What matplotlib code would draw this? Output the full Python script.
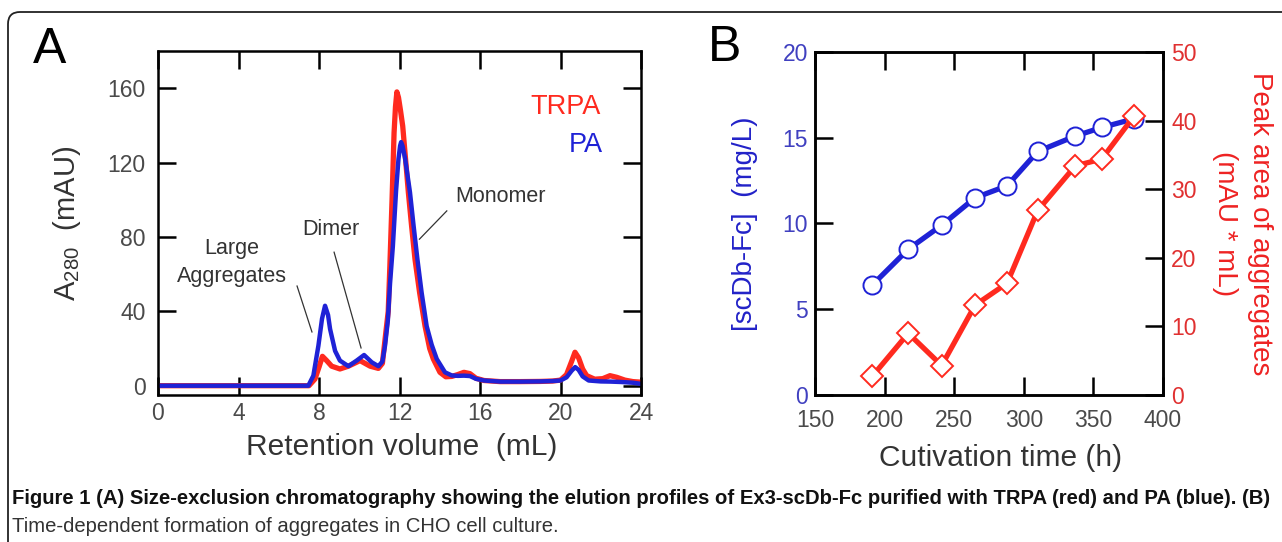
import matplotlib
matplotlib.use("Agg")
import matplotlib.pyplot as plt
from matplotlib.patches import FancyBboxPatch
from matplotlib.transforms import IdentityTransform

plt.rcParams['font.family'] = ['Liberation Sans', 'DejaVu Sans']
plt.rcParams['mathtext.fontset'] = 'custom'
plt.rcParams['mathtext.rm'] = 'Liberation Sans'
plt.rcParams['mathtext.default'] = 'regular'

# ---------------- Panel A data ----------------
trpa_vol = [0, 7.5, 7.8, 8.0, 8.17, 8.38, 8.63, 9.04, 9.46, 10.04, 10.54, 10.95, 11.15,
            11.32, 11.44, 11.52, 11.63, 11.73, 11.80, 11.87, 11.95, 12.05, 12.16, 12.3,
            12.44, 12.6, 12.77, 13.0, 13.27, 13.5, 13.68, 14.01, 14.3, 14.6, 14.9, 15.2,
            15.5, 15.8, 16.2, 17, 18, 19, 19.6, 20.0, 20.3, 20.55, 20.72, 20.9, 21.1, 21.3,
            21.7, 22.1, 22.46, 22.8, 23.2, 23.6, 24]
trpa_abs = [0, 0, 3.6, 10, 15.8, 13.5, 10.5, 9.0, 10.5, 13.5, 10.5, 9.3, 12,
            28.6, 40, 64, 100, 136, 150, 158, 155, 148, 139.6, 122,
            104, 86, 68, 50, 32, 20, 14.4, 7.2, 4.8, 5, 6, 7.2,
            6.5, 4, 2.8, 2.2, 2.2, 2.3, 2.5, 3, 6, 13, 18, 15, 9, 5.4,
            3.5, 3.8, 5.4, 4.5, 3, 2.2, 1.9]

pa_vol = [0, 7.47, 7.72, 7.97, 8.15, 8.30, 8.45, 8.55, 8.80, 9.04, 9.46, 9.87, 10.24,
          10.62, 10.95, 11.15, 11.28, 11.42, 11.53, 11.67, 11.83, 11.95, 12.03, 12.08,
          12.15, 12.28, 12.52, 12.7, 12.89, 13.1, 13.35, 13.6, 13.85, 14.26, 14.6, 14.9,
          15.2, 15.5, 15.8, 16.2, 17, 18, 19, 19.6, 20.0, 20.3, 20.55, 20.73, 20.9, 21.1,
          21.4, 22, 22.5, 23, 23.6, 24]
pa_abs = [0, 0, 5.4, 21.5, 36, 43, 38, 30.5, 18.7, 13.5, 10.5, 13.5, 16.5,
          12.6, 10.5, 13, 21.5, 35, 55, 75, 105, 122, 129, 131,
          129, 122, 104, 86, 68, 50, 32, 22, 14.4, 7.2, 5.5, 5.3,
          5.4, 5.2, 3.7, 2.8, 2.2, 2.2, 2.3, 2.5, 2.8, 4.5, 8, 10, 8.5, 5,
          2.8, 2.3, 2.2, 2.0, 1.6, 1.0]

a_xticks = [0, 4, 8, 12, 16, 20, 24]
a_yticks = [0, 40, 80, 120, 160]

# ---------------- Panel B data ----------------
cult_time = [191, 217, 241, 265, 288, 310, 337, 356, 379]
scdb_conc = [6.4, 8.5, 9.9, 11.5, 12.2, 14.2, 15.1, 15.6, 16.1]
agg_area = [2.7, 9.0, 4.3, 13.1, 16.3, 26.9, 33.4, 34.4, 40.6]

b_xticks = [150, 200, 250, 300, 350, 400]
b_yticks_left = [0, 5, 10, 15, 20]
b_yticks_right = [0, 10, 20, 30, 40, 50]

RED = '#ff2a1f'
BLUE = '#1f22d6'
GRAY = '#4a4a4a'

W, H = 1282, 542
fig = plt.figure(figsize=(W / 100, H / 100), dpi=100)

def frac(l, t, r, b):
    return [l / W, 1 - b / H, (r - l) / W, (b - t) / H]

# ---------------- Panel A ----------------
axA = fig.add_axes(frac(158, 51, 641, 395))
axA.plot(trpa_vol, trpa_abs, color=RED, lw=3.8, solid_joinstyle='round')
axA.plot(pa_vol, pa_abs, color=BLUE, lw=3.2, solid_joinstyle='round')
axA.set_xlim(0, 24)
axA.set_ylim(-5, 180)
axA.set_xticks(a_xticks)
axA.set_yticks(a_yticks)
axA.tick_params(direction='in', length=13, width=1.8, top=True, right=True,
                labelsize=16.5, labelcolor=GRAY, color='black')
axA.tick_params(axis='x', pad=5)
axA.tick_params(axis='y', pad=9)
for s in axA.spines.values():
    s.set_linewidth(1.8)
axA.set_xlabel('Retention volume  (mL)', fontsize=21.5, color='#333333', va='center')
axA.xaxis.set_label_coords(0.505, -0.152)
axA.set_ylabel('A$_{280}$  (mAU)', fontsize=21, color='#333333', va='center')
axA.yaxis.set_label_coords(-0.188, 0.5)

axA.text(22.0, 150, 'TRPA', color=RED, fontsize=19.5, ha='right', va='center')
axA.text(22.1, 129.3, 'PA', color=BLUE, fontsize=19.5, ha='right', va='center')

ann_kw = dict(fontsize=15.5, color='#333333', ha='center', va='center')
axA.text(3.68, 66.2, 'Large\nAggregates', linespacing=1.4, **ann_kw)
axA.text(8.58, 84.2, 'Dimer', **ann_kw)
axA.text(17.0, 102, 'Monomer', **ann_kw)
lk = dict(color='#333333', lw=0.9)
axA.plot([6.91, 7.65], [53.6, 28.9], **lk)
axA.plot([8.75, 10.09], [71.8, 20.3], **lk)
axA.plot([14.35, 12.99], [94.0, 78.8], **lk)

# ---------------- Panel B ----------------
axB = fig.add_axes(frac(815, 52, 1163, 395))
axB.plot(cult_time, scdb_conc, color=BLUE, lw=3.8, marker='o', ms=13,
         mfc='white', mec=BLUE, mew=1.4, zorder=3)
axB.set_xlim(150, 400)
axB.set_ylim(0, 20)
axB.set_xticks(b_xticks)
axB.set_yticks(b_yticks_left)
axB.tick_params(direction='in', length=13, width=1.8, top=True, right=False,
                labelsize=16.5, color='black')
axB.tick_params(axis='x', pad=10, labelcolor=GRAY)
axB.tick_params(axis='y', pad=5, labelcolor='#4040c0')
for s in axB.spines.values():
    s.set_linewidth(1.8)
axB.set_xlabel('Cutivation time (h)', fontsize=21.5, color='#333333', va='center')
axB.xaxis.set_label_coords(0.534, -0.184)
axB.set_ylabel('[scDb-Fc]  (mg/L)', fontsize=20, color='#2222c8', va='center')
axB.yaxis.set_label_coords(-0.201, 0.5)

axR = axB.twinx()
axR.plot(cult_time, agg_area, color=RED, lw=3.8, marker='D', ms=11.5,
         mfc='white', mec=RED, mew=1.4, zorder=3)
axR.set_ylim(0, 50)
axR.set_yticks(b_yticks_right)
axR.tick_params(direction='in', length=13, width=1.8, labelsize=16.5,
                labelcolor='#e03030', color='black', pad=6)
for s in axR.spines.values():
    s.set_linewidth(1.8)
axR.set_ylabel('Peak area of aggregates\n(mAU * mL)', fontsize=20, color='#ee2222',
               rotation=270, va='center', ha='center', linespacing=1.45)
axR.yaxis.set_label_coords(1.228, 0.5)

# panel letters
fig.text(50 / W, 1 - 50 / H, 'A', fontsize=36, ha='center', va='center')
fig.text(725 / W, 1 - 48 / H, 'B', fontsize=36, ha='center', va='center')

# caption
cap_font = ['Liberation Sans Narrow', 'Liberation Sans', 'DejaVu Sans']
t1 = fig.text(12 / W, 1 - 498 / H,
              'Figure 1 (A) Size-exclusion chromatography showing the elution profiles of '
              'Ex3-scDb-Fc purified with TRPA (red) and PA (blue). (B)',
              fontsize=15, fontweight='bold', family=cap_font, ha='left', va='center',
              color='#111111')
t2 = fig.text(12 / W, 1 - 527 / H,
              'Time-dependent formation of aggregates in CHO cell culture.',
              fontsize=15, family=cap_font, ha='left', va='center', color='#333333')
fig.canvas.draw()
r = fig.canvas.get_renderer()
w1 = t1.get_window_extent(r).width
scale = (1277 - 12) / w1
t1.set_fontsize(15 * scale)
t2.set_fontsize(15 * scale)

# rounded frame
frame = FancyBboxPatch((8, -20), 1320, H - 12 + 20,
                       boxstyle='round,pad=0,rounding_size=12',
                       transform=IdentityTransform(), fill=False,
                       lw=1.3, ec='#222222')
fig.add_artist(frame)

fig.savefig('out.png', dpi=100)
